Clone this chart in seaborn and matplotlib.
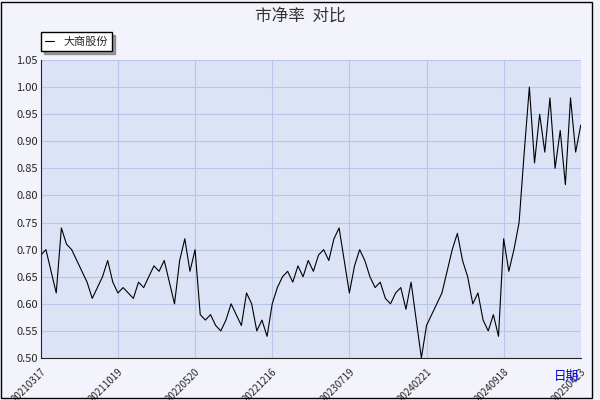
import numpy as np
import pandas as pd
import matplotlib
matplotlib.use("Agg")
import matplotlib.pyplot as plt
import seaborn as sns

# PB values, 15 samples per tick interval
pb_values = [
    0.69, 0.70, 0.66, 0.62, 0.74, 0.71, 0.70, 0.68, 0.66, 0.64, 0.61, 0.63, 0.65, 0.68, 0.64,
    0.62, 0.63, 0.62, 0.61, 0.64, 0.63, 0.65, 0.67, 0.66, 0.68, 0.64, 0.60, 0.68, 0.72, 0.66,
    0.70, 0.58, 0.57, 0.58, 0.56, 0.55, 0.57, 0.60, 0.58, 0.56, 0.62, 0.60, 0.55, 0.57, 0.54,
    0.60, 0.63, 0.65, 0.66, 0.64, 0.67, 0.65, 0.68, 0.66, 0.69, 0.70, 0.68, 0.72, 0.74, 0.68,
    0.62, 0.67, 0.70, 0.68, 0.65, 0.63, 0.64, 0.61, 0.60, 0.62, 0.63, 0.59, 0.64, 0.57, 0.50,
    0.56, 0.58, 0.60, 0.62, 0.66, 0.70, 0.73, 0.68, 0.65, 0.60, 0.62, 0.57, 0.55, 0.58, 0.54,
    0.72, 0.66, 0.70, 0.75, 0.88, 1.00, 0.86, 0.95, 0.88, 0.98, 0.85, 0.92, 0.82, 0.98, 0.88,
    0.93,
]
tick_labels = ["20210317", "20211019", "20220520", "20221216",
               "20230719", "20240221", "20240918", "20250423"]
y_ticks = [0.50, 0.55, 0.60, 0.65, 0.70, 0.75, 0.80, 0.85, 0.90, 0.95, 1.00, 1.05]

df = pd.DataFrame({"idx": range(len(pb_values)), "pb": pb_values})

sns.set_style("white")
plt.rcParams["font.family"] = ["Noto Sans CJK SC", "DejaVu Sans"]

fig = plt.figure(figsize=(6, 4), dpi=100, facecolor="#f3f4fb")
ax = fig.add_axes([0.068, 0.105, 0.9, 0.745])
ax.set_facecolor("#dce3f6")
sns.lineplot(data=df, x="idx", y="pb", ax=ax, color="black", linewidth=0.8,
             label="大商股份")

ax.set_xlim(0, len(pb_values) - 1)
ax.set_ylim(0.5, 1.05)
ax.set_xticks(range(0, len(pb_values), 15))
ax.set_xticklabels(tick_labels, rotation=45, ha="right", rotation_mode="anchor",
                   fontsize=7)
ax.set_yticks(y_ticks)
ax.set_yticklabels([f"{v:.2f}" for v in y_ticks], fontsize=8)
ax.set_yticks(np.arange(0.5, 1.05, 0.01), minor=True)
ax.tick_params(axis="y", which="minor", length=2, direction="in")
ax.tick_params(axis="both", which="major", length=4, direction="in", pad=2)
ax.tick_params(axis="x", pad=6)
ax.grid(True, color="#b8c6ea", linewidth=0.8)
ax.set_xlabel("")
ax.set_ylabel("")
for s in ["top", "right"]:
    ax.spines[s].set_visible(False)

leg = ax.legend(loc="lower left", bbox_to_anchor=(-0.01, 1.01), fontsize=8,
                frameon=True, fancybox=False, shadow=True, handlelength=0.8,
                borderpad=0.4)
leg.get_frame().set_edgecolor("black")

fig.text(0.5, 0.96, "市净率  对比", ha="center", va="center", fontsize=12, color="#333333")
fig.text(0.965, 0.06, "日期", ha="right", va="center", fontsize=9, color="#0000cc")

# border
fig.patches.append(plt.Rectangle((0.002, 0.005), 0.985, 0.99, transform=fig.transFigure,
                                 fill=False, edgecolor="black", linewidth=1))

fig.savefig("out.png", dpi=100, facecolor=fig.get_facecolor())
